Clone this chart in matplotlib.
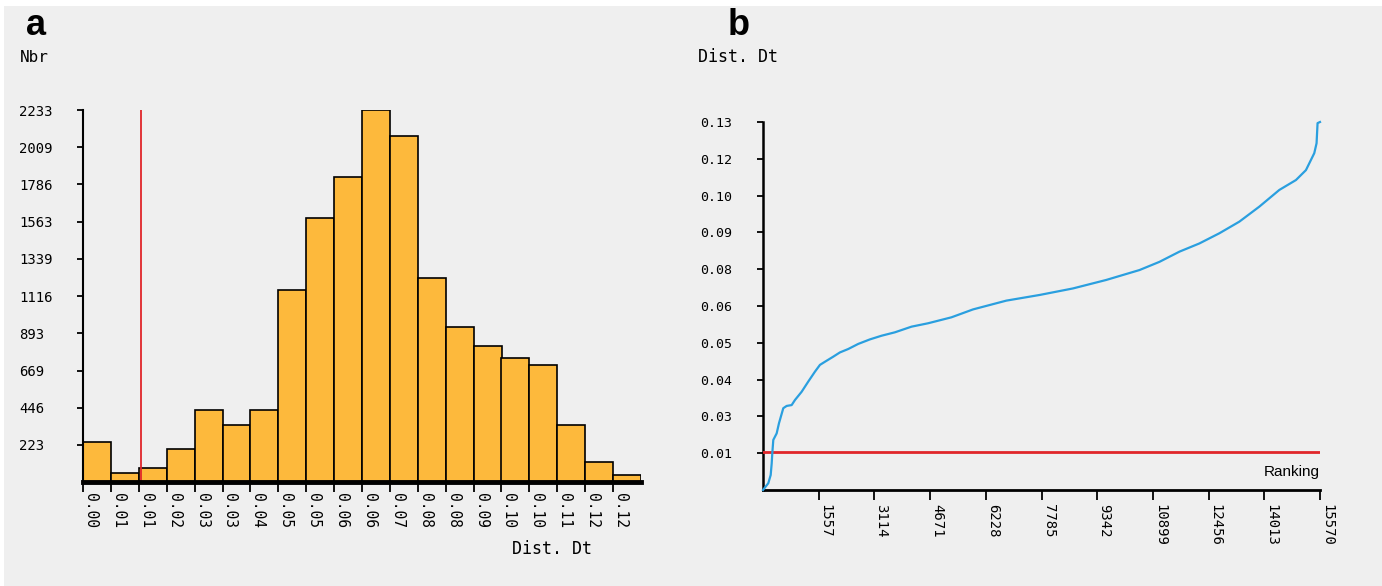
import numpy as np
import matplotlib
matplotlib.use("Agg")
import matplotlib.pyplot as plt
from matplotlib.patches import Rectangle

# panel a: histogram of distances (20 bins, width 0.0065)
bin_width = 0.0065
counts = [243, 54, 86, 199, 434, 344, 434, 1152, 1587, 1830, 2233, 2075,
          1222, 930, 814, 746, 700, 344, 119, 42]
bin_labels = ['0.00', '0.01', '0.01', '0.02', '0.03', '0.03', '0.04', '0.05',
              '0.05', '0.06', '0.06', '0.07', '0.08', '0.08', '0.09', '0.10',
              '0.10', '0.11', '0.12', '0.12']
count_ticks = [223, 446, 669, 893, 1116, 1339, 1563, 1786, 2009, 2233]
threshold = 0.0135

# panel b: ranked distances
rank = [0, 148, 215, 243, 260, 288, 382, 447, 567, 662, 801, 894, 1080, 1265,
        1452, 1592, 1731, 1964, 2150, 2382, 2661, 2988, 3314, 3686, 4151, 4615,
        5267, 5872, 6803, 7733, 8663, 9594, 10524, 11083, 11641, 12199, 12758,
        13316, 13874, 14433, 14898, 15177, 15317, 15410, 15474, 15502, 15570]
dist = [0, 0.0024, 0.0053, 0.0094, 0.013, 0.0177, 0.020, 0.0236, 0.0289,
        0.0297, 0.030, 0.0318, 0.0347, 0.0383, 0.0418, 0.0442, 0.0453, 0.0471,
        0.0486, 0.0498, 0.0516, 0.0532, 0.0545, 0.0557, 0.0577, 0.0589, 0.0610,
        0.0638, 0.0669, 0.0689, 0.0712, 0.0742, 0.0777, 0.0806, 0.0842, 0.0871,
        0.0907, 0.0948, 0.1001, 0.1060, 0.1095, 0.1130, 0.1166, 0.1190, 0.1225,
        0.1296, 0.13]
rank_ticks = [1557, 3114, 4671, 6228, 7785, 9342, 10899, 12456, 14013, 15570]
dist_ticks = [0.013, 0.026, 0.039, 0.052, 0.065, 0.078, 0.091, 0.104, 0.117, 0.13]
dist_labels = ['0.01', '0.03', '0.04', '0.05', '0.06', '0.08', '0.09', '0.10',
               '0.12', '0.13']

BG = '#efefef'
ORANGE = '#fdb93c'
BLUE = '#2a9fdf'
RED = '#e0262a'
MONO = 'DejaVu Sans Mono'
W, H = 1382, 586

fig = plt.figure(figsize=(W / 100, H / 100), dpi=100, facecolor='white')
fig.patches.append(Rectangle((4 / W, 0), 1, 1 - 6 / H, transform=fig.transFigure,
                             facecolor=BG, edgecolor='none', zorder=-10))


def frac(x0, y0, x1, y1):
    return [x0 / W, 1 - y1 / H, (x1 - x0) / W, (y1 - y0) / H]


# ---- a ----
ax = fig.add_axes(frac(83, 110, 641, 482))
ax.set_facecolor('none')
edges = np.arange(len(counts)) * bin_width
ax.bar(edges, counts, width=bin_width, align='edge', color=ORANGE,
       edgecolor='black', linewidth=1.2)
ax.plot([threshold, threshold], [0, count_ticks[-1]], color=RED, lw=1.3, zorder=5)
ax.set_xlim(0, bin_width * len(counts))
ax.set_ylim(0, count_ticks[-1])
for s in ['top', 'right']:
    ax.spines[s].set_visible(False)
ax.spines['left'].set_linewidth(1.5)
ax.spines['bottom'].set_linewidth(3.5)
ax.spines['bottom'].set_zorder(6)
ax.set_xticks(edges)
ax.set_xticklabels(bin_labels, rotation=270, ha='left', va='top',
                   family=MONO, fontsize=10.5)
ax.tick_params(axis='x', length=7, width=1.3, pad=1)
ax.set_yticks(count_ticks)
ax.set_yticklabels([str(c) for c in count_ticks], family=MONO, fontsize=10)
ax.tick_params(axis='y', length=4, width=1.3, pad=42)
for lbl in ax.get_yticklabels():
    lbl.set_horizontalalignment('left')

fig.text(20 / W, 1 - 57 / H, 'Nbr', family=MONO, fontsize=11.5, va='center')
fig.text(512 / W, 1 - 549 / H, 'Dist. Dt', family=MONO, fontsize=12, va='center')
fig.text(26 / W, 1 - 35 / H, 'a', family='Liberation Sans', fontweight='bold',
         fontsize=26, va='baseline')

# ---- b ----
bx = fig.add_axes(frac(763, 122, 1320, 490))
bx.set_facecolor('none')
bx.plot(rank, dist, color=BLUE, lw=1.6, clip_on=False, zorder=4)
bx.axhline(threshold, color=RED, lw=2.0, zorder=3)
bx.set_xlim(0, rank_ticks[-1])
bx.set_ylim(0, dist_ticks[-1])
for s in ['top', 'right']:
    bx.spines[s].set_visible(False)
bx.spines['left'].set_linewidth(1.8)
bx.spines['bottom'].set_linewidth(2.0)
bx.set_xticks(rank_ticks)
bx.set_xticklabels([str(r) for r in rank_ticks], rotation=270, ha='left',
                   va='top', family=MONO, fontsize=10)
bx.tick_params(axis='x', length=7, width=1.3, pad=3)
bx.set_yticks(dist_ticks)
bx.set_yticklabels(dist_labels, family=MONO, fontsize=9.5)
bx.tick_params(axis='y', length=4, width=1.3, pad=18)
bx.text(rank_ticks[-1], 0.005, 'Ranking', family='Liberation Sans',
        fontsize=11, ha='right', va='baseline')

fig.text(698 / W, 1 - 57 / H, 'Dist. Dt', family=MONO, fontsize=12, va='center')
fig.text(728 / W, 1 - 35 / H, 'b', family='Liberation Sans', fontweight='bold',
         fontsize=26, va='baseline')

fig.savefig('out.png', dpi=100, facecolor='white')
